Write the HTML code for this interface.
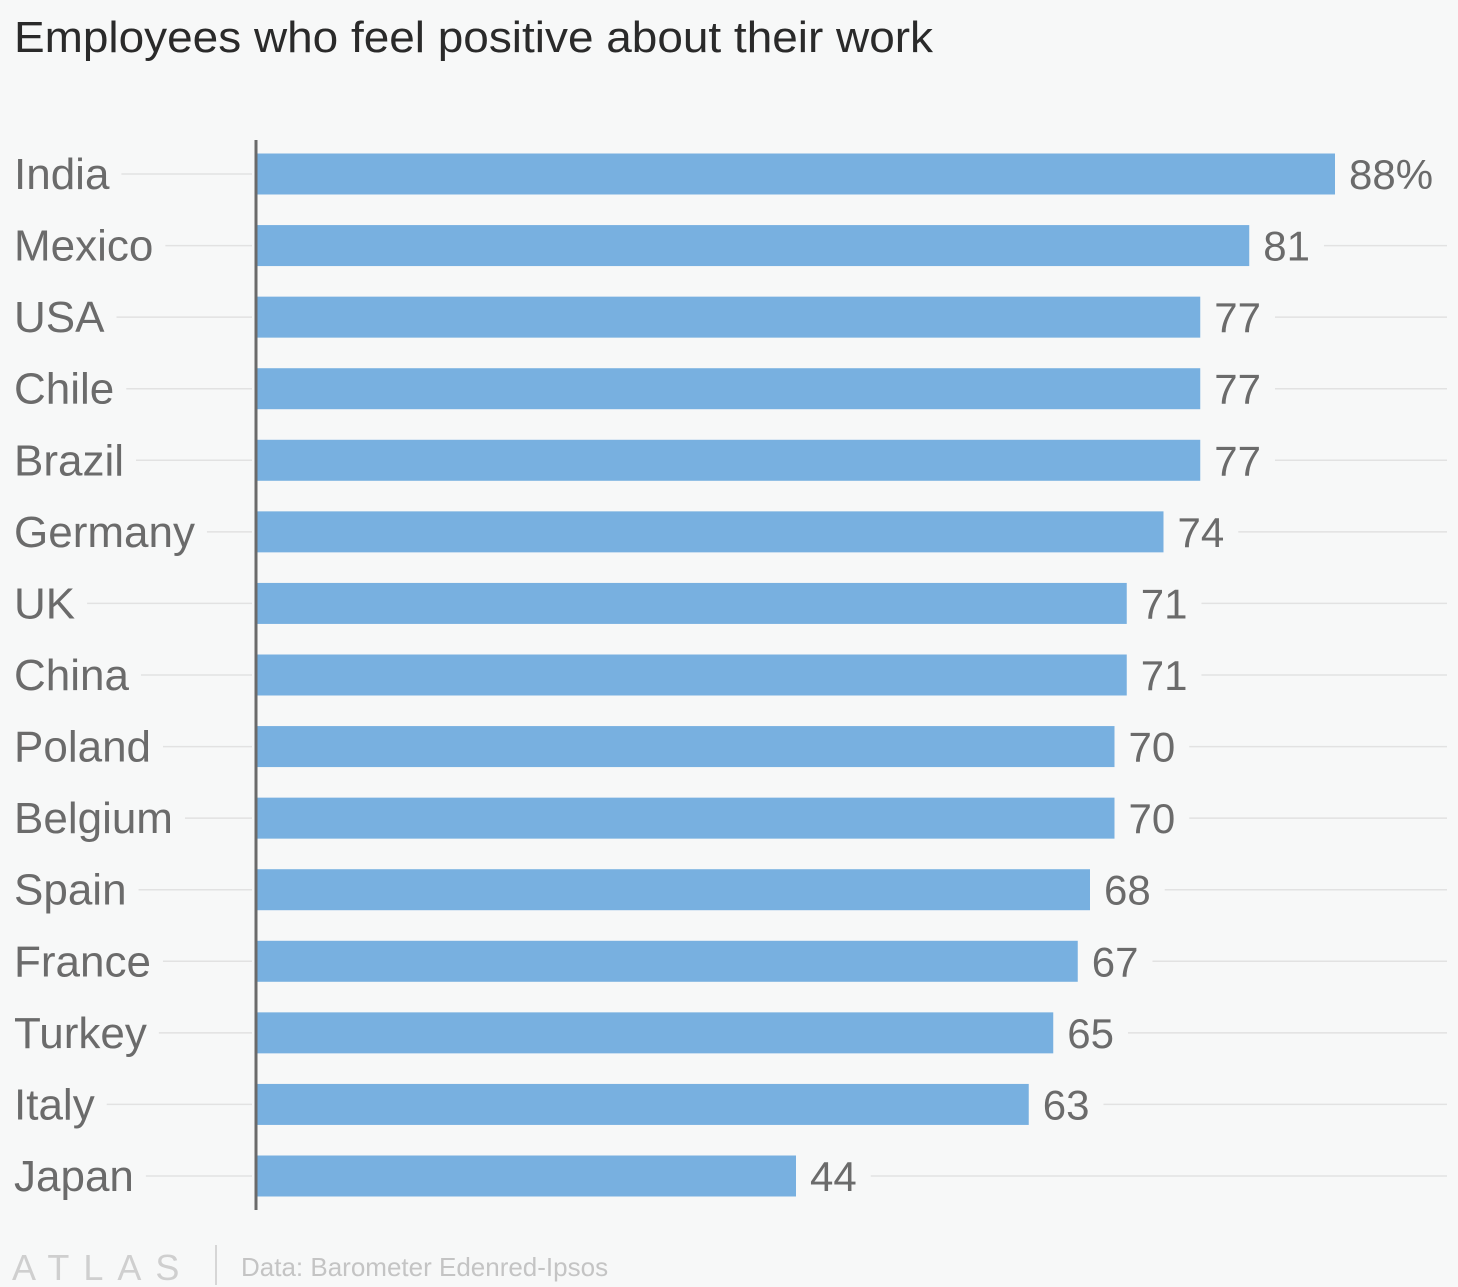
<!DOCTYPE html>
<html><head><meta charset="utf-8"><style>
body{margin:0;background:#f7f8f8;}
svg{display:block;font-family:"Liberation Sans",sans-serif;}
</style></head><body>
<svg id="chart" width="1458" height="1287" viewBox="0 0 1458 1287">
<rect width="1458" height="1287" fill="#f7f8f8"/>
<text x="14" y="52" font-size="44" fill="#2a2a2a" textLength="919" lengthAdjust="spacingAndGlyphs">Employees who feel positive about their work</text>
<g id="plot"></g>
<line x1="256" y1="140" x2="256" y2="1210" stroke="#6a6a6a" stroke-width="3"/>
<text x="12" y="1280" font-size="36" fill="#cfcfcf" letter-spacing="14">ATLAS</text>
<line x1="216" y1="1245" x2="216" y2="1285" stroke="#d6d6d6" stroke-width="2"/>
<text x="241" y="1276" font-size="26" fill="#c4c4c4">Data: Barometer Edenred-Ipsos</text>
</svg>
<script>
const categories=["India","Mexico","USA","Chile","Brazil","Germany","UK","China","Poland","Belgium","Spain","France","Turkey","Italy","Japan"];
const values=[88,81,77,77,77,74,71,71,70,70,68,67,65,63,44];
const valueLabels=["88%","81","77","77","77","74","71","71","70","70","68","67","65","63","44"];
const NS="http://www.w3.org/2000/svg";
const g=document.getElementById('plot');
const x0=257,pxPer=(1335-257)/88;
const xs=v=>x0+v*pxPer;
const y0=174,step=(1176-174)/14,bh=41;
const ys=i=>y0+i*step;
function mk(t,a){const e=document.createElementNS(NS,t);for(const k in a)e.setAttribute(k,a[k]);g.appendChild(e);return e;}
categories.forEach((c,i)=>{
  const y=ys(i);
  const lab=mk('text',{x:14,y:y+15,'font-size':44,fill:'#6b6b6b'});
  lab.textContent=c;
  
  
  const lw=lab.getComputedTextLength();
  const gl=mk('line',{x1:14+lw+12,y1:y,x2:252,y2:y,stroke:'#e2e2e2','stroke-width':1.5});
  
  
  const xe=xs(values[i]);
  const b=mk('rect',{x:x0,y:y-bh/2,width:xe-x0,height:bh,fill:'#78b0e0'});
  
  
  const vt=mk('text',{x:xe+14,y:y+15,'font-size':42,fill:'#6b6b6b'});
  vt.textContent=valueLabels[i];
  
  
  const vw=vt.getComputedTextLength();
  if(xe+14+vw+14<1447){
    const gr=mk('line',{x1:xe+14+vw+14,y1:y,x2:1447,y2:y,stroke:'#e2e2e2','stroke-width':1.5});
    
    
  }
});
</script>
</body></html>
